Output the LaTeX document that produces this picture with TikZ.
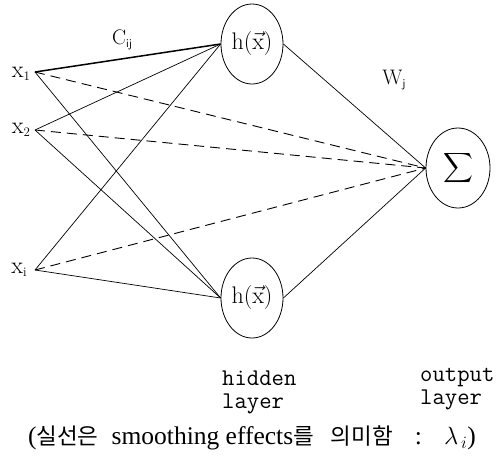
\documentclass[tikz,border=0pt]{standalone}
\usepackage{exscale}
\usepackage{fontspec}
\newfontfamily\kr{Noto Sans CJK KR}
\newfontfamily\serifl{Liberation Serif}
\usetikzlibrary{shapes.geometric}
\newcommand{\subtx}[1]{\raisebox{-3.5pt}{\fontsize{13}{14}\selectfont #1}}
\newcommand{\subsf}[1]{\raisebox{-3.5pt}{\sffamily\fontsize{12}{13}\selectfont #1}}
\newcommand{\krs}[1]{{\kr\fontsize{22.5}{24}\selectfont #1}}
\tikzset{
  unit/.style={draw, ellipse, line width=0.8pt, inner sep=0pt},
  hid/.style={unit, minimum width=62pt, minimum height=80pt, font=\fontsize{24}{26}\selectfont},
  inp/.style={inner sep=0pt, font=\fontsize{24}{26}\selectfont},
  conn/.style={line width=0.7pt},
  dconn/.style={line width=0.9pt, dash pattern=on 10pt off 6pt},
  lbl/.style={inner sep=0pt, font=\fontsize{21}{24}\selectfont},
  layer/.style={inner sep=0pt, anchor=north west, align=left, font=\ttfamily\fontsize{24}{23}\selectfont}
}
\begin{document}
\begin{tikzpicture}[x=1pt,y=-1pt]
\useasboundingbox (0,0) rectangle (496,459);
% inputs
\node[inp] (lx1) at (21,74) {x\subtx{1}};
\node[inp] (lx2) at (21,130) {x\subtx{2}};
\node[inp] (lxi) at (19,270) {x\subtx{i}};
\coordinate (a1) at (35,72);
\coordinate (a2) at (35,130);
\coordinate (ai) at (35,270);
% hidden
\node[hid] (h1) at (252,44) {h($\vec{\mathrm{x}}$)};
\node[hid] (h2) at (252,298) {h($\vec{\mathrm{x}}$)};
% output
\node[unit, minimum width=64pt, minimum height=80pt, font=\fontsize{20}{24}\selectfont] (s) at (458,168) {$\displaystyle\sum$};
% connectors
\draw[conn, line width=1.5pt] (a1) -- (h1.west);
\draw[conn] (a2) -- (h1.west);
\draw[conn] (ai) -- (h1.west);
\draw[conn] (a1) -- (h2.west);
\draw[conn] (a2) -- (h2.west);
\draw[conn] (ai) -- (h2.west);
\draw[conn] (h1.east) -- (s.west);
\draw[conn] (h2.east) -- (s.west);
\draw[dconn] (a1) -- (s.west);
\draw[dconn] (a2) -- (s.west);
\draw[dconn] (ai) -- (s.west);
% labels
\node[lbl] (c) at (122,40) {C\subsf{ij}};
\node[lbl] (w) at (394,80) {W\subsf{j}};
\node[layer] (hl) at (222,371) {hidden\\layer};
\node[layer] (ol) at (420,368) {output\\layer};
\node[inner sep=0pt, font=\serifl\fontsize{25.5}{27}\selectfont] (cap) at (252,438) {(\krs{실선은}\hspace{13pt}smoothing effects\krs{를}\hspace{17pt}\krs{의미함}\hspace{22pt}:\hspace{22pt}$\lambda_{\,i}$)};
\end{tikzpicture}
\end{document}
